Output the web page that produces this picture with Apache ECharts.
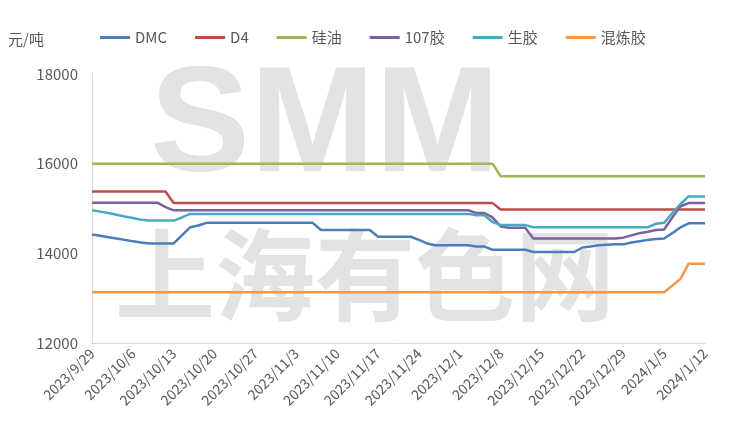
<!DOCTYPE html>
<html><head><meta charset="utf-8">
<script src="https://cdn.jsdelivr.net/npm/echarts@6/dist/echarts.min.js"></script>
<style>html,body{margin:0;padding:0;background:#fff}#c{width:736px;height:437px}</style>
</head><body><div id="c"></div>
<script>
// weekday categories 2023/9/29 .. 2024/1/12
const categories = [];
(function(){ let d = new Date(2023, 8, 29); const end = new Date(2024, 0, 12);
  while (d <= end) { const w = d.getDay(); if (w !== 0 && w !== 6) categories.push(d.getFullYear()+'/'+(d.getMonth()+1)+'/'+d.getDate()); d.setDate(d.getDate()+1); } })();

const dmc = [14420,14390,14360,14330,14300,14270,14240,14220,14220,14220,14220,
  14400,14580,14620,14680,
  14680,14680,14680,14680,14680,14680,14680,14680,14680,14680,14680,14680,14680,
  14520,14520,14520,14520,14520,14520,14520,
  14370,14370,14370,14370,14370,
  14300,14220,
  14180,14180,14180,14180,14180,
  14150,14150,
  14080,14080,14080,14080,14080,
  14030,14030,14030,14030,14030,14030,
  14130,14150,14180,14190,14200,14200,14240,14270,14300,14320,14330,
  14450,14580,
  14670,14670,14670];
const d4 = [15380,15380,15380,15380,15380,15380,15380,15380,15380,15380,
  15120,15120,15120,15120,15120,15120,15120,15120,15120,15120,
  15120,15120,15120,15120,15120,15120,15120,15120,15120,15120,
  15120,15120,15120,15120,15120,15120,15120,15120,15120,15120,
  15120,15120,15120,15120,15120,15120,15120,15120,15120,15120,
  14980,14980,14980,14980,14980,14980,14980,14980,14980,14980,14980,14980,14980,
  14980,14980,14980,14980,14980,14980,14980,14980,14980,14980,14980,14980,14980];
const siliconeOil = [16000,16000,16000,16000,16000,16000,16000,16000,16000,16000,
  16000,16000,16000,16000,16000,16000,16000,16000,16000,16000,
  16000,16000,16000,16000,16000,16000,16000,16000,16000,16000,
  16000,16000,16000,16000,16000,16000,16000,16000,16000,16000,
  16000,16000,16000,16000,16000,16000,16000,16000,16000,16000,
  15720,15720,15720,15720,15720,15720,15720,15720,15720,15720,15720,15720,15720,
  15720,15720,15720,15720,15720,15720,15720,15720,15720,15720,15720,15720,15720];
const glue107 = [15130,15130,15130,15130,15130,15130,15130,15130,15130,
  15030,
  14960,14960,14960,14960,14960,14960,14960,14960,14960,14960,
  14960,14960,14960,14960,14960,14960,14960,14960,14960,14960,
  14960,14960,14960,14960,14960,14960,14960,14960,14960,14960,
  14960,14960,14960,14960,14960,14960,14960,
  14900,14900,14800,14600,
  14570,14570,14570,
  14330,14330,14330,14330,14330,14330,14330,14330,14330,14330,14330,
  14350,14400,14450,14480,14520,14530,
  14800,15050,
  15120,15120,15120];
const rawRubber = [14960,14930,14900,14860,14820,14790,14750,
  14730,14730,14730,14730,
  14800,
  14880,14880,14880,14880,14880,14880,14880,14880,14880,14880,
  14880,14880,14880,14880,14880,14880,14880,14880,14880,14880,
  14880,14880,14880,14880,14880,14880,14880,14880,14880,14880,
  14880,14880,14880,14880,14880,
  14850,14850,14700,
  14630,14630,14630,14630,
  14580,14580,14580,14580,14580,14580,14580,14580,14580,14580,14580,14580,14580,14580,14580,
  14660,14680,14900,15100,
  15270,15270,15270];
const compound = [13130,13130,13130,13130,13130,13130,13130,13130,13130,13130,
  13130,13130,13130,13130,13130,13130,13130,13130,13130,13130,
  13130,13130,13130,13130,13130,13130,13130,13130,13130,13130,
  13130,13130,13130,13130,13130,13130,13130,13130,13130,13130,
  13130,13130,13130,13130,13130,13130,13130,13130,13130,13130,
  13130,13130,13130,13130,13130,13130,13130,13130,13130,13130,
  13130,13130,13130,13130,13130,13130,13130,13130,13130,13130,13130,
  13280,13430,13770,13770,13770];

const names = ['DMC','D4','硅油','107胶','生胶','混炼胶'];
const colors = ['#4a7ebb','#be4b48','#98b954','#7d60a0','#46aac4','#f79646'];
const datas = [dmc,d4,siliconeOil,glue107,rawRubber,compound];

const chart = echarts.init(document.getElementById('c'));
chart.setOption({
  animation:false,
  textStyle:{fontFamily:'Noto Sans CJK SC, sans-serif'},
  graphic:[
    {type:'text',left:150,top:55,z:-10,style:{text:'SMM',font:'bold 150px Liberation Sans',fill:'#e3e3e3'}},
    {type:'text',left:115,top:225,z:-10,style:{text:'上海有色网',font:'bold 100px Noto Sans CJK SC',fill:'#e3e3e3'}},
    {type:'text',left:8,top:32,style:{text:'元/吨',font:'15px Noto Sans CJK SC',fill:'#595959'}}
  ],
  legend:{top:25,left:95,itemWidth:30,itemHeight:3,itemGap:28,icon:'rect',
    textStyle:{fontSize:15,color:'#595959'},data:names},
  grid:{left:92,right:31,top:74,bottom:94},
  xAxis:{type:'category',data:categories,boundaryGap:false,
    axisLine:{lineStyle:{color:'#d9d9d9'}},axisTick:{show:false},
    axisLabel:{interval:4,rotate:45,fontSize:14,color:'#595959',margin:8}},
  yAxis:{type:'value',min:12000,max:18000,interval:2000,
    axisLine:{show:true,lineStyle:{color:'#d9d9d9'}},splitLine:{show:false},
    axisLabel:{fontSize:15,color:'#595959',margin:14,formatter:v=>String(v)}},
  series:datas.map((d,i)=>({name:names[i],type:'line',data:d,symbol:'none',
    lineStyle:{width:2.5,color:colors[i]},itemStyle:{color:colors[i]}}))
});
</script></body></html>
